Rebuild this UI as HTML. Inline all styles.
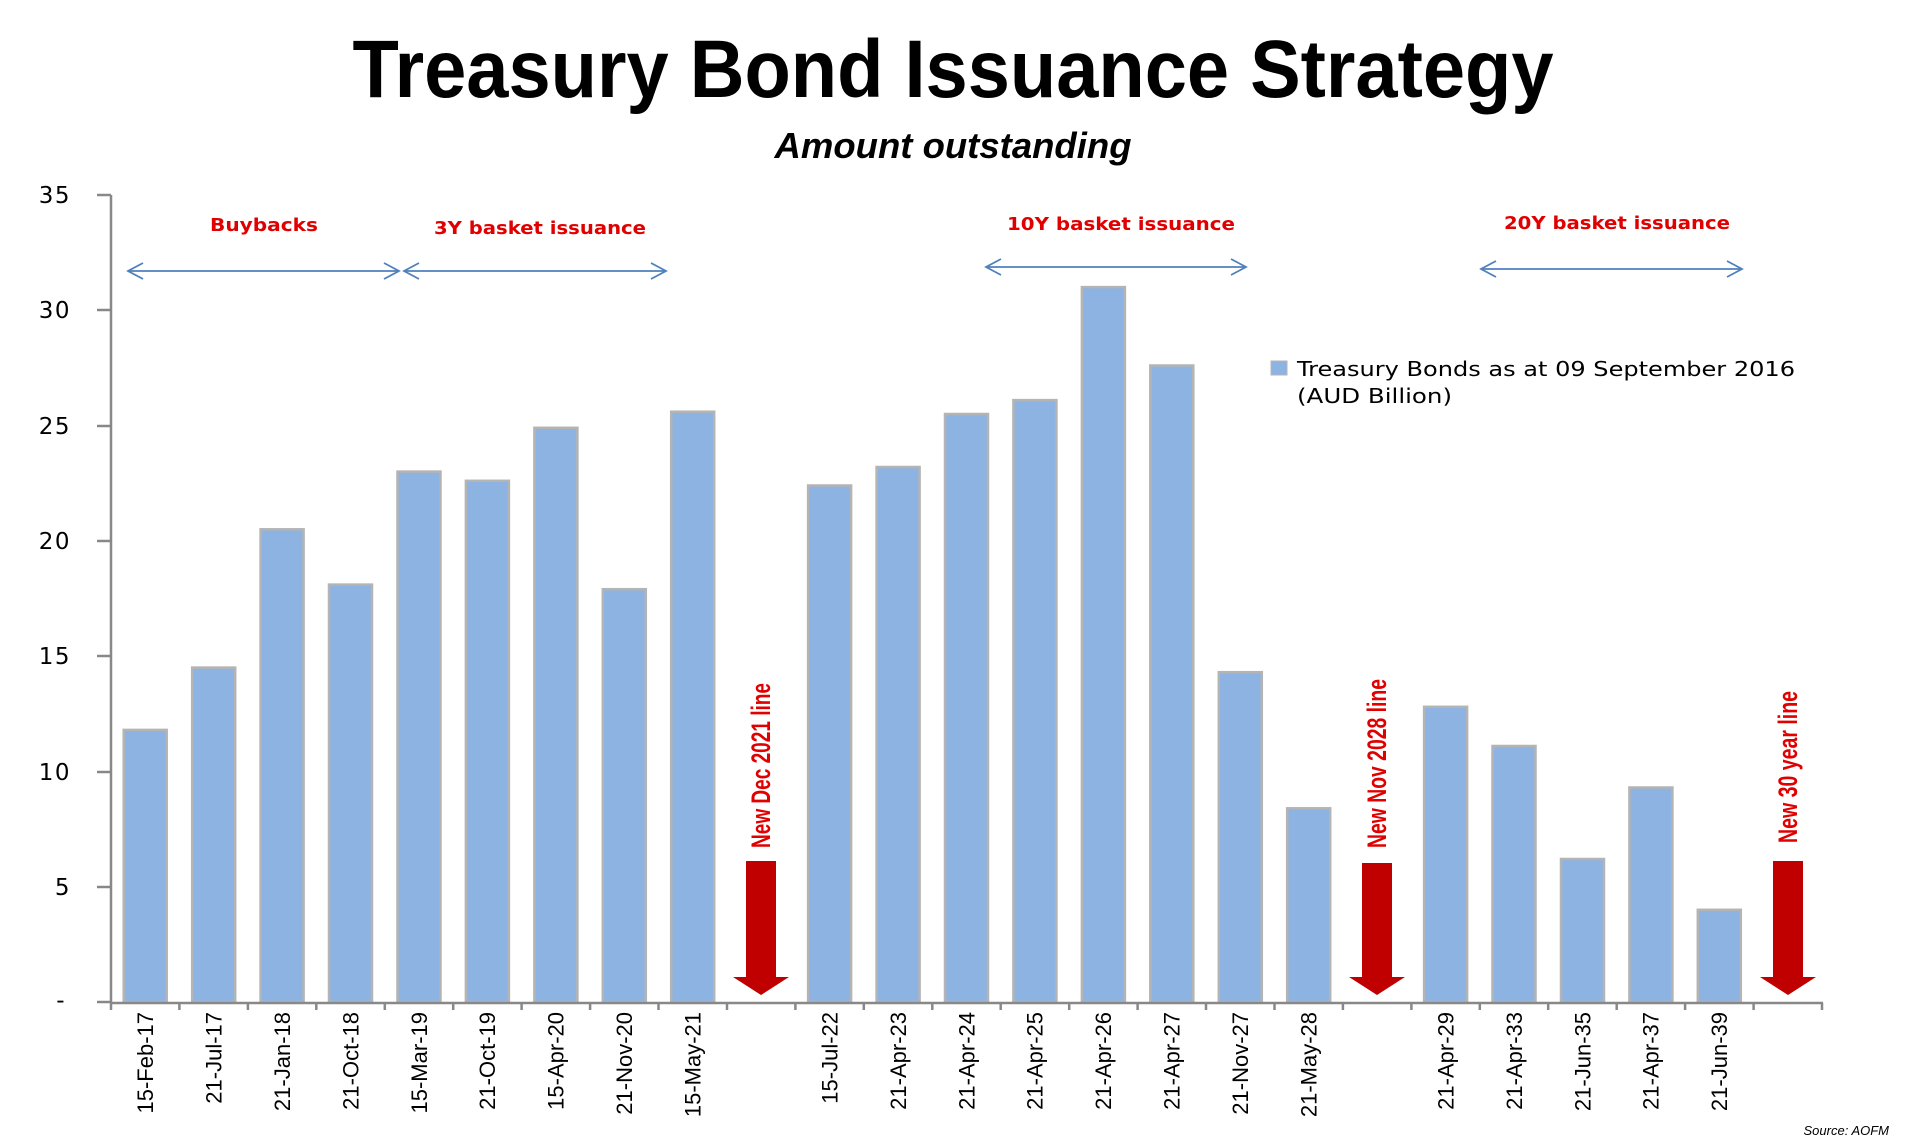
<!DOCTYPE html>
<html><head><meta charset="utf-8"><style>
html,body{margin:0;padding:0;background:#fff;}
svg{display:block;}
.tk{font-family:"Liberation Sans Narrow","Liberation Sans",sans-serif;font-size:22px;fill:#000;}
.yl{font-family:"DejaVu Sans","Liberation Sans",sans-serif;font-size:23px;fill:#000;letter-spacing:1.5px;}
.an{font-family:"DejaVu Sans","Liberation Sans",sans-serif;font-weight:bold;font-size:18px;fill:#e00000;}
.rl{font-family:"Liberation Sans Narrow","Liberation Sans",sans-serif;font-weight:bold;font-size:27px;fill:#e00000;}
</style></head><body>
<svg width="1908" height="1147" viewBox="0 0 1908 1147" xmlns="http://www.w3.org/2000/svg">
<rect width="1908" height="1147" fill="#fff"/>
<text x="953" y="97" text-anchor="middle" font-family="Liberation Sans, sans-serif" font-weight="bold" font-size="82" textLength="1201" lengthAdjust="spacingAndGlyphs">Treasury Bond Issuance Strategy</text>
<text x="953" y="158" text-anchor="middle" font-family="Liberation Sans, sans-serif" font-weight="bold" font-style="italic" font-size="36" textLength="357" lengthAdjust="spacingAndGlyphs">Amount outstanding</text>

<g stroke="#888" stroke-width="2.5">
<line x1="111" y1="195" x2="111" y2="1003"/>
<line x1="97" y1="195" x2="111" y2="195"/><line x1="97" y1="310" x2="111" y2="310"/>
<line x1="97" y1="426" x2="111" y2="426"/><line x1="97" y1="541" x2="111" y2="541"/>
<line x1="97" y1="656" x2="111" y2="656"/><line x1="97" y1="772" x2="111" y2="772"/>
<line x1="97" y1="887" x2="111" y2="887"/><line x1="97" y1="1002" x2="111" y2="1002"/>
</g>
<g class="yl" text-anchor="end">
<text x="71" y="203">35</text><text x="71" y="318">30</text><text x="71" y="434">25</text>
<text x="71" y="549">20</text><text x="71" y="664">15</text><text x="71" y="780">10</text>
<text x="71" y="895">5</text><text x="66" y="1008">-</text>
</g>

<g fill="#8db3e2" stroke="#b4b4b4" stroke-width="2.5">
<rect x="123.7" y="729.9" width="43" height="272.1"/>
<rect x="192.2" y="667.6" width="43" height="334.4"/>
<rect x="260.6" y="529.3" width="43" height="472.7"/>
<rect x="329.0" y="584.6" width="43" height="417.4"/>
<rect x="397.5" y="471.6" width="43" height="530.4"/>
<rect x="465.9" y="480.8" width="43" height="521.2"/>
<rect x="534.4" y="427.8" width="43" height="574.2"/>
<rect x="602.8" y="589.2" width="43" height="412.8"/>
<rect x="671.2" y="411.7" width="43" height="590.3"/>
<rect x="808.1" y="485.5" width="43" height="516.5"/>
<rect x="876.6" y="467.0" width="43" height="535.0"/>
<rect x="945.0" y="414.0" width="43" height="588.0"/>
<rect x="1013.4" y="400.1" width="43" height="601.9"/>
<rect x="1081.9" y="287.1" width="43" height="714.9"/>
<rect x="1150.3" y="365.5" width="43" height="636.5"/>
<rect x="1218.8" y="672.2" width="43" height="329.8"/>
<rect x="1287.2" y="808.3" width="43" height="193.7"/>
<rect x="1424.1" y="706.8" width="43" height="295.2"/>
<rect x="1492.5" y="746.0" width="43" height="256.0"/>
<rect x="1561.0" y="859.0" width="43" height="143.0"/>
<rect x="1629.4" y="787.5" width="43" height="214.5"/>
<rect x="1697.8" y="909.8" width="43" height="92.2"/>
</g>

<g stroke="#888" stroke-width="2.5">
<line x1="111" y1="1003" x2="1823" y2="1003"/>
<line x1="111" y1="1003" x2="111" y2="1010"/><line x1="179.4" y1="1003" x2="179.4" y2="1010"/>
<line x1="247.9" y1="1003" x2="247.9" y2="1010"/><line x1="316.3" y1="1003" x2="316.3" y2="1010"/>
<line x1="384.8" y1="1003" x2="384.8" y2="1010"/><line x1="453.2" y1="1003" x2="453.2" y2="1010"/>
<line x1="521.6" y1="1003" x2="521.6" y2="1010"/><line x1="590.1" y1="1003" x2="590.1" y2="1010"/>
<line x1="658.5" y1="1003" x2="658.5" y2="1010"/><line x1="727.0" y1="1003" x2="727.0" y2="1010"/>
<line x1="795.4" y1="1003" x2="795.4" y2="1010"/><line x1="863.8" y1="1003" x2="863.8" y2="1010"/>
<line x1="932.3" y1="1003" x2="932.3" y2="1010"/><line x1="1000.7" y1="1003" x2="1000.7" y2="1010"/>
<line x1="1069.2" y1="1003" x2="1069.2" y2="1010"/><line x1="1137.6" y1="1003" x2="1137.6" y2="1010"/>
<line x1="1206.0" y1="1003" x2="1206.0" y2="1010"/><line x1="1274.5" y1="1003" x2="1274.5" y2="1010"/>
<line x1="1342.9" y1="1003" x2="1342.9" y2="1010"/><line x1="1411.4" y1="1003" x2="1411.4" y2="1010"/>
<line x1="1479.8" y1="1003" x2="1479.8" y2="1010"/><line x1="1548.2" y1="1003" x2="1548.2" y2="1010"/>
<line x1="1616.7" y1="1003" x2="1616.7" y2="1010"/><line x1="1685.1" y1="1003" x2="1685.1" y2="1010"/>
<line x1="1753.6" y1="1003" x2="1753.6" y2="1010"/><line x1="1822" y1="1003" x2="1822" y2="1010"/>
</g>

<g class="tk" text-anchor="end">
<text transform="translate(153,1012) rotate(-90)">15-Feb-17</text>
<text transform="translate(221.5,1012) rotate(-90)">21-Jul-17</text>
<text transform="translate(289.9,1012) rotate(-90)">21-Jan-18</text>
<text transform="translate(358.3,1012) rotate(-90)">21-Oct-18</text>
<text transform="translate(426.8,1012) rotate(-90)">15-Mar-19</text>
<text transform="translate(495.2,1012) rotate(-90)">21-Oct-19</text>
<text transform="translate(563.7,1012) rotate(-90)">15-Apr-20</text>
<text transform="translate(632.1,1012) rotate(-90)">21-Nov-20</text>
<text transform="translate(700.5,1012) rotate(-90)">15-May-21</text>
<text transform="translate(837.4,1012) rotate(-90)">15-Jul-22</text>
<text transform="translate(905.9,1012) rotate(-90)">21-Apr-23</text>
<text transform="translate(974.3,1012) rotate(-90)">21-Apr-24</text>
<text transform="translate(1042.7,1012) rotate(-90)">21-Apr-25</text>
<text transform="translate(1111.2,1012) rotate(-90)">21-Apr-26</text>
<text transform="translate(1179.6,1012) rotate(-90)">21-Apr-27</text>
<text transform="translate(1248.1,1012) rotate(-90)">21-Nov-27</text>
<text transform="translate(1316.5,1012) rotate(-90)">21-May-28</text>
<text transform="translate(1453.4,1012) rotate(-90)">21-Apr-29</text>
<text transform="translate(1521.8,1012) rotate(-90)">21-Apr-33</text>
<text transform="translate(1590.3,1012) rotate(-90)">21-Jun-35</text>
<text transform="translate(1658.7,1012) rotate(-90)">21-Apr-37</text>
<text transform="translate(1727.1,1012) rotate(-90)">21-Jun-39</text>
</g>

<g fill="#c00000">
<polygon points="746,861 776,861 776,977 789,977 761,995 733,977 746,977"/>
<polygon points="1362,863 1392,863 1392,977 1405,977 1377,995 1349,977 1362,977"/>
<polygon points="1773,861 1803,861 1803,977 1816,977 1788,995 1760,977 1773,977"/>
</g>
<g class="rl">
<text transform="translate(770,848) rotate(-90)" textLength="165" lengthAdjust="spacingAndGlyphs">New Dec 2021 line</text>
<text transform="translate(1386,848) rotate(-90)" textLength="169" lengthAdjust="spacingAndGlyphs">New Nov 2028 line</text>
<text transform="translate(1797,843) rotate(-90)" textLength="152" lengthAdjust="spacingAndGlyphs">New 30 year line</text>
</g>

<g class="an">
<text x="210" y="231" textLength="108" lengthAdjust="spacingAndGlyphs">Buybacks</text>
<text x="434" y="234" textLength="212" lengthAdjust="spacingAndGlyphs">3Y basket issuance</text>
<text x="1007" y="230" textLength="228" lengthAdjust="spacingAndGlyphs">10Y basket issuance</text>
<text x="1504" y="229" textLength="226" lengthAdjust="spacingAndGlyphs">20Y basket issuance</text>
</g>
<g stroke="#4f81bd" stroke-width="1.8" fill="none">
<line x1="128" y1="271" x2="399" y2="271"/><polyline points="143,263 128,271 143,279"/><polyline points="384,263 399,271 384,279"/>
<line x1="404" y1="271" x2="666" y2="271"/><polyline points="419,263 404,271 419,279"/><polyline points="651,263 666,271 651,279"/>
<line x1="986" y1="267" x2="1246" y2="267"/><polyline points="1001,259 986,267 1001,275"/><polyline points="1231,259 1246,267 1231,275"/>
<line x1="1481" y1="269" x2="1742" y2="269"/><polyline points="1496,261 1481,269 1496,277"/><polyline points="1727,261 1742,269 1727,277"/>
</g>

<rect x="1271" y="361" width="16" height="14" fill="#8db3e2" stroke="#b4b4b4" stroke-width="1"/>
<g font-family="DejaVu Sans, Liberation Sans, sans-serif" font-size="20" fill="#000">
<text x="1297" y="376" textLength="498" lengthAdjust="spacingAndGlyphs">Treasury Bonds as at 09 September 2016</text>
<text x="1297" y="403" textLength="155" lengthAdjust="spacingAndGlyphs">(AUD Billion)</text>
</g>

<text x="1889" y="1135" text-anchor="end" font-family="Liberation Sans, sans-serif" font-style="italic" font-size="13" fill="#000">Source: AOFM</text>
</svg>
</body></html>
